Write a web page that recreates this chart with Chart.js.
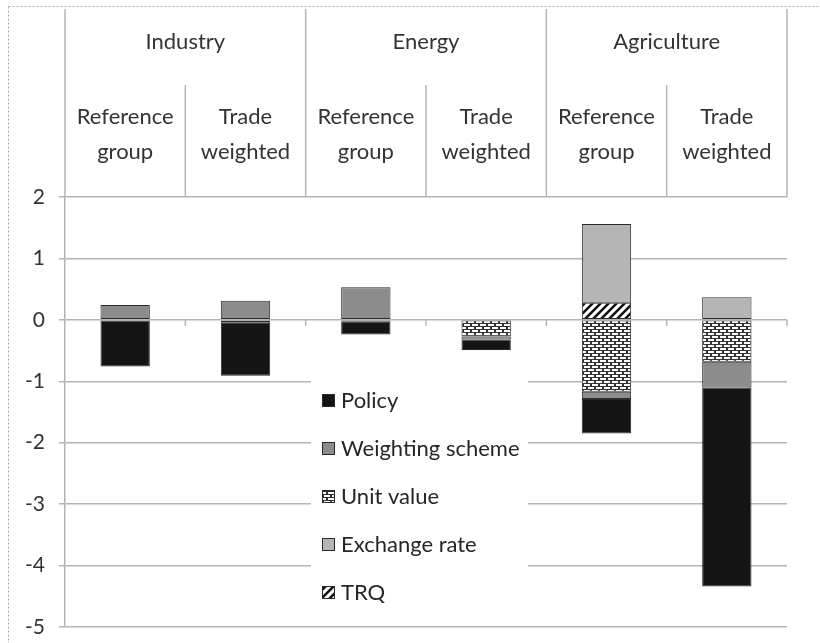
<!DOCTYPE html>
<html>
<head>
<meta charset="utf-8">
<script src="https://cdn.jsdelivr.net/npm/chart.js@4.4.1/dist/chart.umd.min.js"></script>
<style>
  html, body { margin: 0; padding: 0; background: #fff; }
  canvas { display: block; }
</style>
</head>
<body>
<canvas id="chart" width="820" height="643"></canvas>
<script>
// data
const sectors = ['Industry', 'Energy', 'Agriculture'];
const categories = [
  ['Reference', 'group'], ['Trade', 'weighted'],
  ['Reference', 'group'], ['Trade', 'weighted'],
  ['Reference', 'group'], ['Trade', 'weighted']
];
const yTicks = [2, 1, 0, -1, -2, -3, -4, -5];

// series, stacked in this order from zero outward
const trq          = [null, null, null, null, 0.28, null];
const exchangeRate = [null, null, null, null, 1.28, 0.37];
const unitValue    = [null, -0.04, -0.03, -0.27, -1.17, -0.68];
const weighting    = [0.24, 0.31, 0.53, -0.05, -0.12, -0.42];
const policy       = [-0.76, -0.87, -0.21, -0.17, -0.56, -3.24];

const FONT = 'Lato, "Open Sans", sans-serif';
const GRID = '#b4b4b4';
const TEXT = '#333333';

function brickPattern() {
  const c = document.createElement('canvas');
  c.width = 8; c.height = 6;
  const g = c.getContext('2d');
  g.fillStyle = '#333333';
  g.fillRect(0, 0, 8, 6);
  g.fillStyle = '#ffffff';
  g.fillRect(0, 0, 6, 2);
  g.fillRect(4, 3, 4, 2);
  g.fillRect(0, 3, 2, 2);
  return g.createPattern(c, 'repeat');
}

function stripePattern() {
  const c = document.createElement('canvas');
  c.width = 8; c.height = 8;
  const g = c.getContext('2d');
  g.fillStyle = '#ffffff';
  g.fillRect(0, 0, 8, 8);
  g.strokeStyle = '#111111';
  g.lineWidth = 2.5;
  g.beginPath();
  g.moveTo(-2, 10); g.lineTo(10, -2);
  g.moveTo(-6, 6); g.lineTo(6, -6);
  g.moveTo(2, 14); g.lineTo(14, 2);
  g.stroke();
  return g.createPattern(c, 'repeat');
}

const ctx = document.getElementById('chart').getContext('2d');

const common = { borderColor: '#2b2b2b', borderWidth: 1, borderSkipped: false,
  barPercentage: 0.41, categoryPercentage: 1.0, stack: 's' };

const datasets = [
  Object.assign({ label: 'TRQ', data: trq, backgroundColor: stripePattern() }, common),
  Object.assign({ label: 'Exchange rate', data: exchangeRate, backgroundColor: '#b5b5b5' }, common),
  Object.assign({ label: 'Unit value', data: unitValue, backgroundColor: brickPattern() }, common),
  Object.assign({ label: 'Weighting scheme', data: weighting, backgroundColor: '#8c8c8c' }, common),
  Object.assign({ label: 'Policy', data: policy, backgroundColor: '#141414' }, common)
];

// header boxes above the plot, axis ticks on the zero line, frame
const headerPlugin = {
  id: 'header',
  beforeDatasetsDraw(chart) {
    const { ctx, chartArea: a, scales: { x, y } } = chart;
    const n = categories.length;
    const bounds = [a.left];
    for (let i = 0; i < n - 1; i++) {
      bounds.push((x.getPixelForValue(i) + x.getPixelForValue(i + 1)) / 2);
    }
    bounds.push(a.right);
    ctx.save();
    // frame
    ctx.strokeStyle = '#a8a8a8';
    ctx.lineWidth = 1;
    ctx.setLineDash([2, 2]);
    ctx.beginPath();
    ctx.moveTo(8.5, 6.5); ctx.lineTo(820, 6.5);
    ctx.moveTo(8.5, 6.5); ctx.lineTo(8.5, 643);
    ctx.stroke();
    ctx.setLineDash([]);
    // header lines
    ctx.strokeStyle = GRID;
    ctx.lineWidth = 1.5;
    ctx.beginPath();
    bounds.forEach((bx, i) => {
      const top = (i % 2 === 0) ? 9 : 85;
      ctx.moveTo(bx, top); ctx.lineTo(bx, a.top);
    });
    // small ticks under zero line
    const y0 = y.getPixelForValue(0);
    bounds.slice(1).forEach(bx => {
      ctx.moveTo(bx, y0); ctx.lineTo(bx, y0 + 6);
    });
    ctx.stroke();
    // header text
    ctx.fillStyle = TEXT;
    ctx.font = '22px ' + FONT;
    ctx.textAlign = 'center';
    ctx.textBaseline = 'middle';
    sectors.forEach((s, i) => {
      ctx.fillText(s, (bounds[2 * i] + bounds[2 * i + 2]) / 2, 42);
    });
    categories.forEach((lines, i) => {
      const cx = x.getPixelForValue(i);
      lines.forEach((t, j) => ctx.fillText(t, cx, 117 + j * 35));
    });
    ctx.restore();
  }
};

const legendPlugin = {
  id: 'boxLegend',
  afterDatasetsDraw(chart) {
    const { ctx } = chart;
    ctx.save();
    ctx.fillStyle = '#ffffff';
    ctx.fillRect(311, 377, 217, 234);
    ctx.font = '22px ' + FONT;
    ctx.textAlign = 'left';
    ctx.textBaseline = 'middle';
    const items = chart.data.datasets.slice().reverse();
    items.forEach((ds, i) => {
      const cy = 401 + i * 48;
      ctx.fillStyle = ds.backgroundColor;
      ctx.fillRect(322, cy - 7, 13, 13);
      ctx.strokeStyle = '#2b2b2b';
      ctx.lineWidth = 1;
      ctx.strokeRect(322.5, cy - 6.5, 12, 12);
      ctx.fillStyle = '#262626';
      ctx.fillText(ds.label, 341, cy);
    });
    ctx.restore();
  }
};

new Chart(ctx, {
  type: 'bar',
  data: { labels: categories.map(c => c.join(' ')), datasets: datasets },
  options: {
    responsive: false,
    animation: false,
    layout: { padding: { left: 0, right: 33, top: 197, bottom: 16 } },
    plugins: { legend: { display: false }, tooltip: { enabled: false } },
    scales: {
      x: { display: false, stacked: true },
      y: {
        stacked: true,
        min: -5, max: 2,
        afterFit: s => { s.width = 65; s.paddingTop = 0; s.paddingBottom = 0; },
        ticks: {
          stepSize: 1,
          padding: 14,
          color: TEXT,
          font: { family: FONT, size: 21 },
          callback: v => yTicks.includes(v) ? String(v) : ''
        },
        grid: { color: GRID, lineWidth: 1.5, tickLength: 6, drawTicks: true },
        border: { display: true, color: GRID, width: 1.5 }
      }
    }
  },
  plugins: [headerPlugin, legendPlugin]
});
</script>
</body>
</html>
